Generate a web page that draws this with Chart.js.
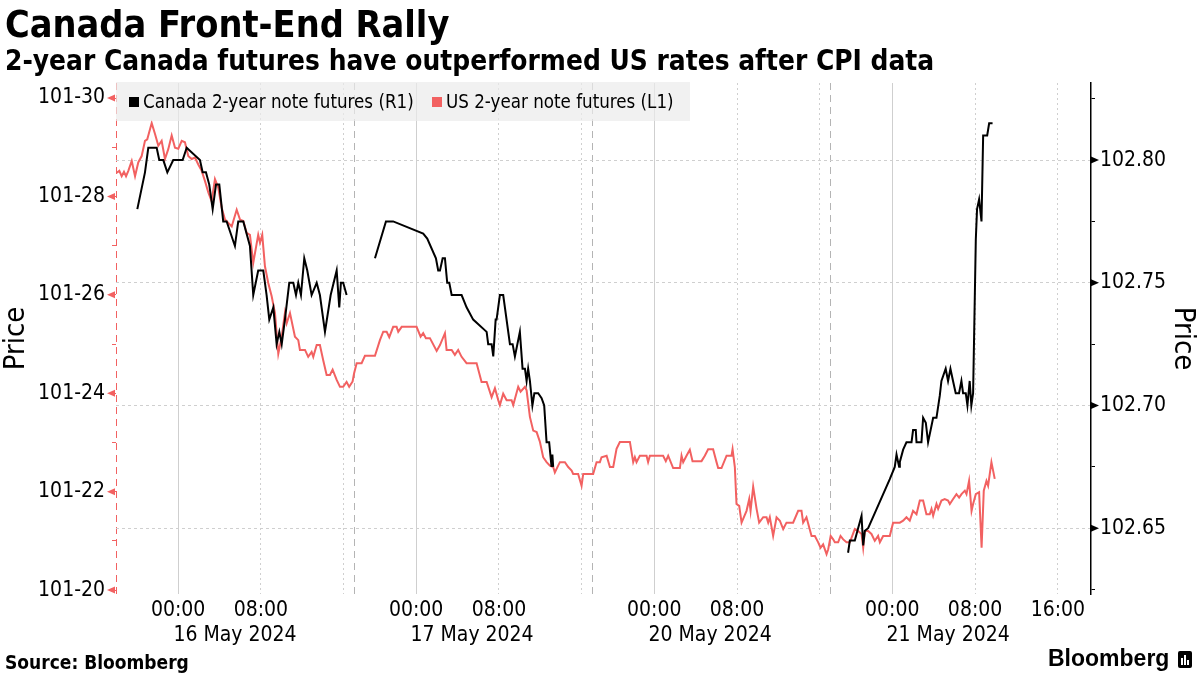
<!DOCTYPE html>
<html>
<head>
<meta charset="utf-8">
<script src="https://cdn.jsdelivr.net/npm/chart.js@4.4.0/dist/chart.umd.min.js"></script>
<style>
  html, body { margin: 0; padding: 0; background: #fff; }
  #wrap { position: relative; width: 1200px; height: 675px; overflow: hidden;
          font-family: 'DejaVu Sans Condensed', 'DejaVu Sans', sans-serif; color: #000; }
  #chart { position: absolute; left: 0; top: 0; }
  .title { position: absolute; left: 5px; top: 6px; font-size: 37.5px; font-weight: bold; line-height: 1; white-space: nowrap; }
  .subtitle { position: absolute; left: 5px; top: 47px; font-size: 27.8px; font-weight: bold; line-height: 1; white-space: nowrap; }
  .source { position: absolute; left: 5px; top: 653px; font-size: 19px; font-weight: bold; line-height: 1; }
  #legend { position: absolute; left: 116px; top: 82px; width: 574px; height: 39px; background: rgba(235,235,235,0.7); }
  #legend .sw { position: absolute; top: 15px; width: 10px; height: 10px; }
  #legend .lt { position: absolute; top: 11px; font-size: 18.6px; line-height: 1; white-space: nowrap; }
  .logo { position: absolute; left: 1048px; top: 647px; font-family: 'Liberation Sans', Arial, sans-serif; font-weight: bold; font-size: 23px; line-height: 1; }
  .icon { position: absolute; left: 1178px; top: 651px; width: 14px; height: 17px; background: #000; border-radius: 2px; }
  .icon i { position: absolute; bottom: 3px; width: 2px; background: #fff; }
</style>
</head>
<body>
<div id="wrap">
  <canvas id="chart" width="1200" height="675"></canvas>
  <div class="title">Canada Front-End Rally</div>
  <div class="subtitle">2-year Canada futures have outperformed US rates after CPI data</div>
  <div id="legend">
    <span class="sw" style="left:13px;background:#000"></span><span class="lt" style="left:27px">Canada 2-year note futures (R1)</span>
    <span class="sw" style="left:316px;background:#f26161"></span><span class="lt" style="left:330px">US 2-year note futures (L1)</span>
  </div>
  <div class="source">Source: Bloomberg</div>
  <div class="logo">Bloomberg</div>
  <div class="icon"><i style="left:3px;height:7px"></i><i style="left:6px;height:10px"></i><i style="left:9px;height:5px"></i></div>
</div>
<script>
const FONT = "'DejaVu Sans Condensed', 'DejaVu Sans', sans-serif";
const US_RED = '#f26161';
const GRID = '#cfcfcf';
const NONE = 'rgba(0,0,0,0)';

// x values are trading hours counted from the 18:00 ET open on 15 May,
// with the daily 17:00-18:00 halt and the weekend left out
const usHours = [
  0.07, 0.32, 0.55, 0.77, 0.97, 1.19, 1.52, 1.84, 2.15, 2.48, 2.80, 3.02, 3.45, 3.77, 4.09, 4.41, 4.73, 5.05, 5.38, 5.70,
  6.02, 6.35, 6.66, 6.98, 7.31, 7.63, 7.95, 8.28, 8.60, 8.92, 9.24, 9.56, 9.88, 10.21, 10.53, 10.85, 11.18, 11.66, 11.98, 12.30,
  12.62, 12.94, 13.26, 13.74, 13.91, 14.13, 14.39, 14.71, 15.04, 15.36, 15.68, 16.01, 16.32, 16.49, 16.81, 17.29, 17.61, 17.77, 18.26, 18.57,
  18.90, 19.06, 19.39, 19.70, 20.02, 20.35, 20.67, 20.93, 21.32, 21.64, 21.95, 22.28, 22.53, 22.86,
  23.00, 23.25, 23.73, 24.05, 25.02, 25.50, 25.82, 26.15, 26.40, 26.78, 27.11, 27.27, 27.60, 29.04, 29.43, 29.68, 29.94, 30.33, 30.98, 31.30,
  31.78, 31.94, 32.43, 32.74, 33.06, 33.39, 33.87, 34.36, 34.84, 35.32, 35.81, 36.29, 36.61, 36.93, 37.09, 37.41, 37.74, 38.22, 38.38, 38.86,
  39.09, 39.51, 39.67, 39.99, 40.31, 40.64, 40.96, 41.27, 41.60, 41.92, 42.24, 42.40, 42.72, 42.89, 43.37, 43.69, 44.02, 44.17, 44.65, 44.98, 45.14,
  46.10, 46.43, 46.75, 46.91, 47.40, 47.72, 48.04, 48.36, 48.68, 49.65, 49.97, 50.13, 50.29, 50.61, 51.26, 51.41, 51.58, 52.86, 53.12, 53.35,
  53.83, 54.48, 54.64, 54.80, 55.12, 55.44, 55.70, 56.57, 56.89, 57.21, 57.69, 58.02, 58.18, 58.50, 58.99, 59.47, 59.57, 59.79, 59.95, 60.21,
  60.44, 60.92, 61.18, 61.31, 61.56, 61.89, 62.14, 62.53, 62.85, 63.01, 63.17, 63.49, 63.82, 64.14, 64.46, 64.78, 65.42, 65.91, 66.23, 66.39,
  66.71, 67.20, 67.52, 67.84, 68.07, 68.32, 68.65, 68.81,
  69.05, 69.29, 69.45, 69.77, 70.00, 70.26, 70.58, 70.90, 71.38, 71.70, 72.03, 72.19, 72.35, 72.67, 72.99, 73.31, 73.63, 73.80, 74.12, 74.76,
  75.08, 75.73, 76.05, 76.37, 76.69, 77.01, 77.34, 77.66, 77.98, 78.30, 78.62, 78.79, 78.95, 79.27, 79.43, 79.75, 80.07, 80.39, 80.56, 80.88,
  81.20, 81.46, 81.69, 82.01, 82.17, 82.42, 82.66, 82.81, 83.07, 83.39, 83.63, 83.84, 84.10, 84.26, 84.58, 84.90
];
// US 2-year note futures, 32nds above 101
const us32nds = [
  28.48, 28.52, 28.41, 28.50, 28.41, 28.52, 28.72, 28.41, 28.69, 28.82, 29.13, 29.16, 29.49, 29.27, 29.03, 29.13, 28.76, 28.96, 29.24, 28.99,
  28.97, 29.13, 29.10, 28.82, 28.76, 28.79, 28.65, 28.52, 28.31, 28.08, 27.90, 28.35, 28.18, 27.77, 27.53, 27.46, 27.39, 27.73, 27.53, 27.50,
  27.26, 27.22, 26.65, 27.22, 27.06, 27.22, 26.58, 26.24, 25.97, 25.63, 24.80, 25.15, 25.63, 25.42, 25.63, 25.15, 25.08, 24.88, 24.88, 24.74,
  24.84, 24.74, 24.98, 24.98, 24.67, 24.37, 24.37, 24.48, 24.27, 24.13, 24.13, 24.23, 24.13, 24.24,
  24.40, 24.61, 24.61, 24.76, 24.76, 25.08, 25.25, 25.25, 25.14, 25.35, 25.35, 25.25, 25.35, 25.35, 25.15, 25.22, 25.12, 25.12, 24.86, 24.98,
  25.22, 24.88, 24.88, 24.78, 24.88, 24.74, 24.61, 24.61, 24.61, 24.23, 24.23, 23.92, 24.10, 23.86, 23.76, 23.99, 23.86, 23.86, 23.76, 24.13,
  24.03, 24.13, 24.06, 23.52, 23.24, 23.21, 23.01, 22.70, 22.60, 22.53, 22.50, 22.39, 22.53, 22.60, 22.60, 22.50, 22.43, 22.36, 22.36, 22.12, 22.36,
  22.36, 22.60, 22.60, 22.70, 22.73, 22.50, 22.50, 22.87, 23.01, 23.01, 22.60, 22.70, 22.60, 22.73, 22.73, 22.60, 22.73, 22.73, 22.62, 22.73,
  22.48, 22.48, 22.73, 22.60, 22.73, 22.85, 22.62, 22.62, 22.73, 22.86, 22.86, 22.60, 22.48, 22.48, 22.73, 22.73, 22.86, 22.50, 21.75, 21.71,
  21.37, 21.61, 21.85, 21.61, 22.10, 21.65, 21.37, 21.48, 21.48, 21.37, 21.48, 21.10, 21.48, 21.41, 21.24, 21.37, 21.37, 21.61, 21.61, 21.37,
  21.48, 21.10, 21.10, 20.97, 20.86, 20.93, 20.73, 20.83,
  21.10, 21.03, 20.97, 20.97, 21.10, 21.03, 20.97, 20.97, 21.24, 21.20, 21.14, 20.86, 21.20, 21.20, 21.14, 21.00, 21.10, 20.97, 21.10, 21.10,
  21.37, 21.37, 21.41, 21.48, 21.41, 21.61, 21.54, 21.82, 21.82, 21.54, 21.54, 21.65, 21.51, 21.75, 21.65, 21.82, 21.85, 21.82, 21.75, 21.85,
  21.95, 21.88, 21.95, 22.02, 21.95, 22.22, 21.61, 21.75, 21.95, 21.99, 20.86, 22.02, 22.22, 22.12, 22.60, 22.26
];

const caHours = [
  2.06, 2.80, 3.12, 3.93, 4.18, 4.57, 4.96, 5.53, 6.44, 6.83, 8.11, 8.37, 8.69, 9.01, 9.34, 9.66, 9.98, 10.36, 10.69, 11.49,
  11.81, 12.30, 12.62, 12.94, 13.26, 13.74, 14.23, 14.55, 14.81, 15.20, 15.52, 15.78, 16.01, 16.32, 16.74, 17.13, 17.39, 17.61, 17.87, 18.19,
  18.48, 18.90, 19.39, 19.70, 20.19, 20.74, 21.32, 21.57, 21.73, 21.95, 22.28,
  23.00,
  25.02, 26.08, 26.78, 29.68, 30.07, 30.91, 31.13, 31.30, 31.56, 31.78, 32.00, 32.20, 32.43, 33.39, 33.87, 34.51, 35.81, 35.96, 36.29, 36.45,
  36.68, 36.77, 37.09, 37.41, 38.06, 38.32, 38.54, 39.02, 39.28, 39.51, 39.67, 39.82, 39.99, 40.23, 40.42, 40.79, 41.12, 41.37, 41.60, 41.85,
  42.08, 42.16, 42.24,
  46.00,
  70.73, 70.90, 71.38, 71.70, 72.03, 72.19, 72.35, 72.67, 74.76, 75.24, 75.41, 75.66, 75.73, 76.05, 76.37, 76.86, 77.01, 77.27, 77.34, 77.82,
  77.98, 78.24, 78.46, 78.95, 79.27, 79.59, 79.75, 80.16, 80.39, 80.62, 80.87, 81.13, 81.45, 81.68, 81.84, 82.10, 82.26, 82.48, 82.64, 82.81,
  83.07, 83.19, 83.39, 83.62, 83.78, 84.17, 84.36, 84.69
];
const caPrices = [
  102.780, 102.795, 102.805, 102.805, 102.800, 102.800, 102.795, 102.800, 102.800, 102.805, 102.800, 102.795, 102.795, 102.790, 102.780, 102.790, 102.790, 102.775, 102.775, 102.765,
  102.775, 102.775, 102.770, 102.765, 102.745, 102.755, 102.755, 102.745, 102.735, 102.740, 102.725, 102.730, 102.725, 102.735, 102.750, 102.750, 102.745, 102.750, 102.745, 102.760,
  102.755, 102.745, 102.750, 102.745, 102.730, 102.745, 102.755, 102.740, 102.750, 102.750, 102.745,
  null,
  102.760, 102.775, 102.775, 102.770, 102.768, 102.760, 102.755, 102.755, 102.760, 102.760, 102.750, 102.750, 102.745, 102.745, 102.740, 102.735, 102.730, 102.725, 102.725, 102.720,
  102.735, 102.735, 102.745, 102.745, 102.725, 102.725, 102.720, 102.730, 102.715, 102.715, 102.710, 102.715, 102.710, 102.700, 102.705, 102.705, 102.703, 102.700, 102.685, 102.685,
  102.675, 102.680, 102.675,
  null,
  102.640, 102.645, 102.645, 102.650, 102.655, 102.643, 102.649, 102.650, 102.670, 102.675, 102.680, 102.675, 102.677, 102.682, 102.685, 102.685, 102.690, 102.690, 102.685, 102.685,
  102.695, 102.693, 102.685, 102.695, 102.695, 102.704, 102.710, 102.715, 102.710, 102.715, 102.710, 102.705, 102.705, 102.710, 102.705, 102.705, 102.700, 102.710, 102.700, 102.705,
  102.7675, 102.780, 102.784, 102.775, 102.810, 102.810, 102.815, 102.815
];

const timeTicks = [6, 14, 22, 29, 37, 45, 52, 60, 68, 75, 83, 91];
const timeLabels = ['00:00', '08:00', '', '00:00', '08:00', '', '00:00', '08:00', '', '00:00', '08:00', '16:00'];
const midnightTicks = [6, 29, 52, 75];
const dottedTicks = [14, 22, 37, 45, 60, 68, 83, 91];
const sessionBreaks = [0, 23, 46, 69];
const dayCenters = [11.5, 34.4, 57.4, 80.4];
const dayLabels = ['16 May 2024', '17 May 2024', '20 May 2024', '21 May 2024'];
const usAxisTicks = [20, 21, 22, 23, 24, 25, 26, 27, 28, 29, 30];
const usMajorTicks = [20, 22, 24, 26, 28, 30];
const caAxisTicks = [102.625, 102.65, 102.675, 102.70, 102.725, 102.75, 102.775, 102.80, 102.825];
const caMajorTicks = [102.65, 102.70, 102.75, 102.80];

const X_MIN = 0, X_MAX = 94.2;
const isCaMajor = v => caMajorTicks.some(m => Math.abs(m - v) < 1e-6);
const setTicks = list => scale => { scale.ticks = list.map(v => ({ value: v })); };
const tickFont = { family: FONT, size: 21 };
const titleFont = { family: FONT, size: 29 };

const axisMarks = {
  id: 'axisMarks',
  afterDraw(chart) {
    const ctx = chart.ctx;
    const yl = chart.scales.yUS, yr = chart.scales.yCA;
    ctx.save();
    ctx.fillStyle = US_RED;
    usMajorTicks.forEach(v => {
      const y = yl.getPixelForValue(v);
      ctx.beginPath();
      ctx.moveTo(yl.right - 9, y);
      ctx.lineTo(yl.right - 1, y - 3.5);
      ctx.lineTo(yl.right - 1, y + 3.5);
      ctx.closePath();
      ctx.fill();
    });
    ctx.fillStyle = '#000';
    caMajorTicks.forEach(v => {
      const y = yr.getPixelForValue(v);
      ctx.beginPath();
      ctx.moveTo(yr.left + 8, y);
      ctx.lineTo(yr.left, y - 3.5);
      ctx.lineTo(yr.left, y + 3.5);
      ctx.closePath();
      ctx.fill();
    });
    ctx.restore();
  }
};

new Chart(document.getElementById('chart').getContext('2d'), {
  type: 'line',
  data: {
    datasets: [
      {
        label: 'Canada 2-year note futures (R1)',
        data: caHours.map((h, i) => ({ x: h, y: caPrices[i] })),
        yAxisID: 'yCA',
        borderColor: '#000',
        borderWidth: 2,
        pointRadius: 0,
        tension: 0,
        spanGaps: false
      },
      {
        label: 'US 2-year note futures (L1)',
        data: usHours.map((h, i) => ({ x: h, y: us32nds[i] })),
        yAxisID: 'yUS',
        borderColor: US_RED,
        borderWidth: 2,
        pointRadius: 0,
        tension: 0
      }
    ]
  },
  options: {
    responsive: false,
    animation: false,
    layout: { padding: { top: 83, left: 0, right: 0, bottom: 0 } },
    plugins: { legend: { display: false }, tooltip: { enabled: false } },
    scales: {
      x: {
        type: 'linear', position: 'bottom', min: X_MIN, max: X_MAX, weight: 0,
        afterBuildTicks: setTicks(timeTicks),
        afterFit: s => { s.height = 24; },
        ticks: { autoSkip: false, maxRotation: 0, padding: 4, color: '#000', font: tickFont,
                 callback: (v, i) => timeLabels[i] },
        grid: { drawTicks: false, lineWidth: 1,
                color: c => (c.tick && midnightTicks.includes(c.tick.value)) ? GRID : NONE },
        border: { display: false }
      },
      xDotted: {
        type: 'linear', position: 'bottom', min: X_MIN, max: X_MAX, weight: 0,
        afterBuildTicks: setTicks(dottedTicks),
        afterFit: s => { s.height = 0; },
        ticks: { display: false },
        grid: { drawTicks: false, color: GRID, lineWidth: 1 },
        border: { display: false, dash: [2, 3] }
      },
      xBreak: {
        type: 'linear', position: 'bottom', min: X_MIN, max: X_MAX, weight: 0,
        afterBuildTicks: setTicks(sessionBreaks),
        afterFit: s => { s.height = 0; },
        ticks: { display: false },
        grid: { drawTicks: false, lineWidth: 1,
                color: c => (c.tick && c.tick.value === 0) ? US_RED : '#b4b4b4' },
        border: { display: false, dash: [7, 5] }
      },
      xDate: {
        type: 'linear', position: 'bottom', min: X_MIN, max: X_MAX, weight: 1,
        afterBuildTicks: setTicks(dayCenters),
        afterFit: s => { s.height = 57; },
        ticks: { autoSkip: false, maxRotation: 0, padding: 5, color: '#000', font: tickFont,
                 callback: (v, i) => dayLabels[i] },
        grid: { display: false, drawTicks: false },
        border: { display: false }
      },
      yUS: {
        type: 'linear', position: 'left', min: 19.92, max: 30.305,
        afterBuildTicks: setTicks(usAxisTicks),
        afterFit: s => { s.width = 116; },
        ticks: { padding: 7, color: '#000', font: tickFont,
                 callback: v => (usMajorTicks.includes(v) ? '101-' + v : '') },
        grid: { drawOnChartArea: false, drawTicks: true, tickLength: 4, color: US_RED, lineWidth: 1 },
        border: { display: false },
        title: { display: true, text: 'Price', color: '#000', font: titleFont, padding: { top: -1, bottom: 0 } }
      },
      yCA: {
        type: 'linear', position: 'right', min: 102.6232, max: 102.8314,
        afterBuildTicks: setTicks(caAxisTicks),
        afterFit: s => { s.width = 109; },
        ticks: { padding: 5, color: '#000', font: tickFont,
                 callback: v => (isCaMajor(v) ? v.toFixed(2) : '') },
        grid: { drawOnChartArea: true, drawTicks: true, tickLength: 4, lineWidth: 1,
                color: c => (c.tick && isCaMajor(c.tick.value)) ? GRID : NONE,
                tickColor: '#000' },
        border: { display: true, color: '#000', width: 1.5, dash: [3, 3] },
        title: { display: true, text: 'Price', color: '#000', font: titleFont, padding: { top: 0, bottom: 0 } }
      }
    }
  },
  plugins: [axisMarks]
});
</script>
</body>
</html>
